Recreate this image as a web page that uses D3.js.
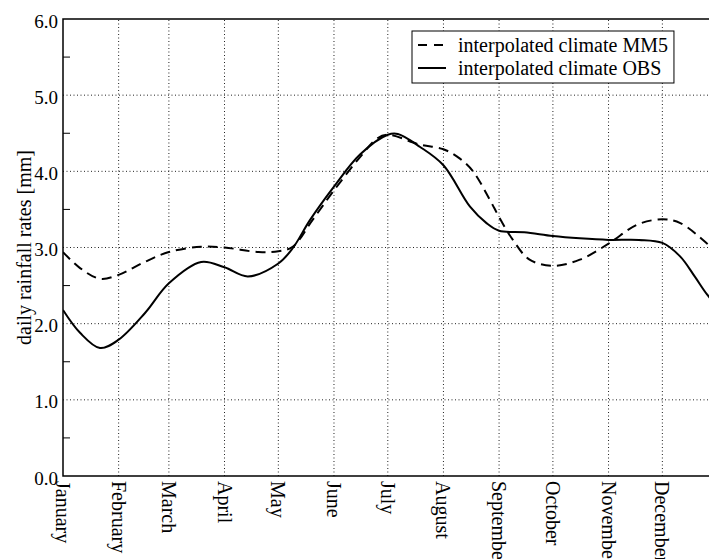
<!DOCTYPE html>
<html>
<head>
<meta charset="utf-8">
<script src="https://cdn.jsdelivr.net/npm/d3@7"></script>
<style>
  body { margin: 0; background: #fff; }
  text { font-family: "Liberation Serif", "DejaVu Serif", serif; fill: #000; }
</style>
</head>
<body>
<svg id="chart" width="709" height="559"></svg>
<script>
var months = ["January", "February", "March", "April", "May", "June", "July",
              "August", "September", "October", "November", "December"];
var monthStart = [0, 31, 59, 90, 120, 151, 181, 212, 243, 273, 304, 334];
var yTicks = [0, 1, 2, 3, 4, 5, 6];
var yMinor = [0.5, 1.5, 2.5, 3.5, 4.5, 5.5];

// day of year -> daily rainfall [mm]
var obsDays = [0, 9.5, 20.6, 31, 45.7, 59, 77, 90, 103, 120, 128, 137.6, 151, 165.5, 181, 186.6,
               199, 212, 226.7, 236, 243, 257, 273, 288, 304, 321, 334, 344, 352, 359, 365];
var obsVals = [2.18, 1.88, 1.68, 1.79, 2.14, 2.53, 2.81, 2.74, 2.62, 2.79, 2.99, 3.36, 3.80, 4.22, 4.48, 4.49,
               4.32, 4.08, 3.54, 3.32, 3.22, 3.20, 3.15, 3.12, 3.10, 3.10, 3.06, 2.88, 2.62, 2.38, 2.22];
var mm5Days = [0, 9.5, 20.6, 31, 44.6, 59, 77, 90, 109, 120, 128, 139, 151, 166, 175, 181,
               199, 212, 221, 228.5, 238, 243, 250.7, 260, 273, 288, 304, 320, 334, 344, 359, 365];
var mm5Vals = [2.94, 2.73, 2.59, 2.64, 2.80, 2.94, 3.01, 3.00, 2.94, 2.95, 3.01, 3.36, 3.75, 4.20, 4.43, 4.48,
               4.35, 4.29, 4.17, 4.00, 3.62, 3.40, 3.10, 2.84, 2.76, 2.84, 3.05, 3.30, 3.37, 3.32, 3.05, 2.92];

var seriesNames = ["interpolated climate MM5", "interpolated climate OBS"];

var svg = d3.select("#chart"),
    margin = { top: 19, left: 63 },
    width = 655,
    height = 457;

var x = d3.scaleLinear().domain([0, 365]).range([margin.left, margin.left + width]);
var y = d3.scaleLinear().domain([0, 6]).range([margin.top + height, margin.top]);

// grid
svg.append("g").selectAll("line").data(yTicks.slice(1, -1)).enter().append("line")
    .attr("x1", margin.left).attr("x2", margin.left + width)
    .attr("y1", function(d) { return y(d); }).attr("y2", function(d) { return y(d); })
    .attr("stroke", "#222").attr("stroke-width", 1).attr("stroke-dasharray", "1,2.5");

svg.append("g").selectAll("line").data(monthStart.slice(1)).enter().append("line")
    .attr("x1", function(d) { return x(d); }).attr("x2", function(d) { return x(d); })
    .attr("y1", y(0)).attr("y2", y(6))
    .attr("stroke", "#222").attr("stroke-width", 1).attr("stroke-dasharray", "1,2.5");

// minor ticks
svg.append("g").selectAll("line").data(yMinor).enter().append("line")
    .attr("x1", margin.left).attr("x2", margin.left + 7)
    .attr("y1", function(d) { return y(d); }).attr("y2", function(d) { return y(d); })
    .attr("stroke", "#000").attr("stroke-width", 1);

// lines
var line = d3.line()
    .curve(d3.curveCatmullRom.alpha(0.5))
    .x(function(d) { return x(d[0]); })
    .y(function(d) { return y(d[1]); });

svg.append("defs").append("clipPath").attr("id", "clip")
    .append("rect").attr("x", margin.left).attr("y", margin.top)
    .attr("width", width).attr("height", height);

svg.append("path")
    .datum(d3.zip(mm5Days, mm5Vals))
    .attr("clip-path", "url(#clip)")
    .attr("fill", "none").attr("stroke", "#000").attr("stroke-width", 2)
    .attr("stroke-dasharray", "10,6")
    .attr("d", line);

svg.append("path")
    .datum(d3.zip(obsDays, obsVals))
    .attr("clip-path", "url(#clip)")
    .attr("fill", "none").attr("stroke", "#000").attr("stroke-width", 2)
    .attr("d", line);

// spines
svg.append("path")
    .attr("d", "M" + (margin.left + width) + "," + y(6) + "H" + margin.left +
               "V" + y(0) + "H" + (margin.left + width))
    .attr("fill", "none").attr("stroke", "#000").attr("stroke-width", 1.5);

// y tick labels
svg.append("g").selectAll("text").data(yTicks).enter().append("text")
    .attr("x", margin.left - 5)
    .attr("y", function(d) { return y(d) + 2; })
    .attr("text-anchor", "end")
    .attr("dominant-baseline", "central")
    .style("font-size", "19px")
    .text(function(d) { return d.toFixed(1); });

// x tick labels
svg.append("g").selectAll("text").data(monthStart).enter().append("text")
    .attr("transform", function(d) { return "translate(" + x(d) + "," + (y(0) + 5) + ") rotate(90)"; })
    .attr("text-anchor", "start")
    .attr("dominant-baseline", "central")
    .style("font-size", "20px")
    .text(function(d, i) { return months[i]; });

// y label
svg.append("text")
    .attr("transform", "translate(24," + (margin.top + height / 2) + ") rotate(-90)")
    .attr("text-anchor", "middle")
    .attr("dominant-baseline", "central")
    .style("font-size", "20px")
    .text("daily rainfall rates [mm]");

// legend
var legend = svg.append("g");
var box = legend.append("rect")
    .attr("x", 412).attr("y", 31).attr("height", 52)
    .attr("fill", "#fff").attr("stroke", "#000").attr("stroke-width", 1);

var rows = legend.selectAll("g.row").data(seriesNames).enter().append("g")
    .attr("class", "row")
    .attr("transform", function(d, i) { return "translate(0," + (45 + i * 23) + ")"; });

rows.append("line")
    .attr("x1", 418).attr("x2", 446).attr("y1", 0).attr("y2", 0)
    .attr("stroke", "#000").attr("stroke-width", 2)
    .attr("stroke-dasharray", function(d, i) { return i === 0 ? "9,7" : null; });

rows.append("text")
    .attr("x", 458).attr("y", 0)
    .attr("dominant-baseline", "central")
    .style("font-size", "20px")
    .text(function(d) { return d; });

var maxW = d3.max(rows.selectAll("text").nodes(), function(n) { return n.getComputedTextLength(); });
box.attr("width", 458 + maxW + 6 - 412);
</script>
</body>
</html>
